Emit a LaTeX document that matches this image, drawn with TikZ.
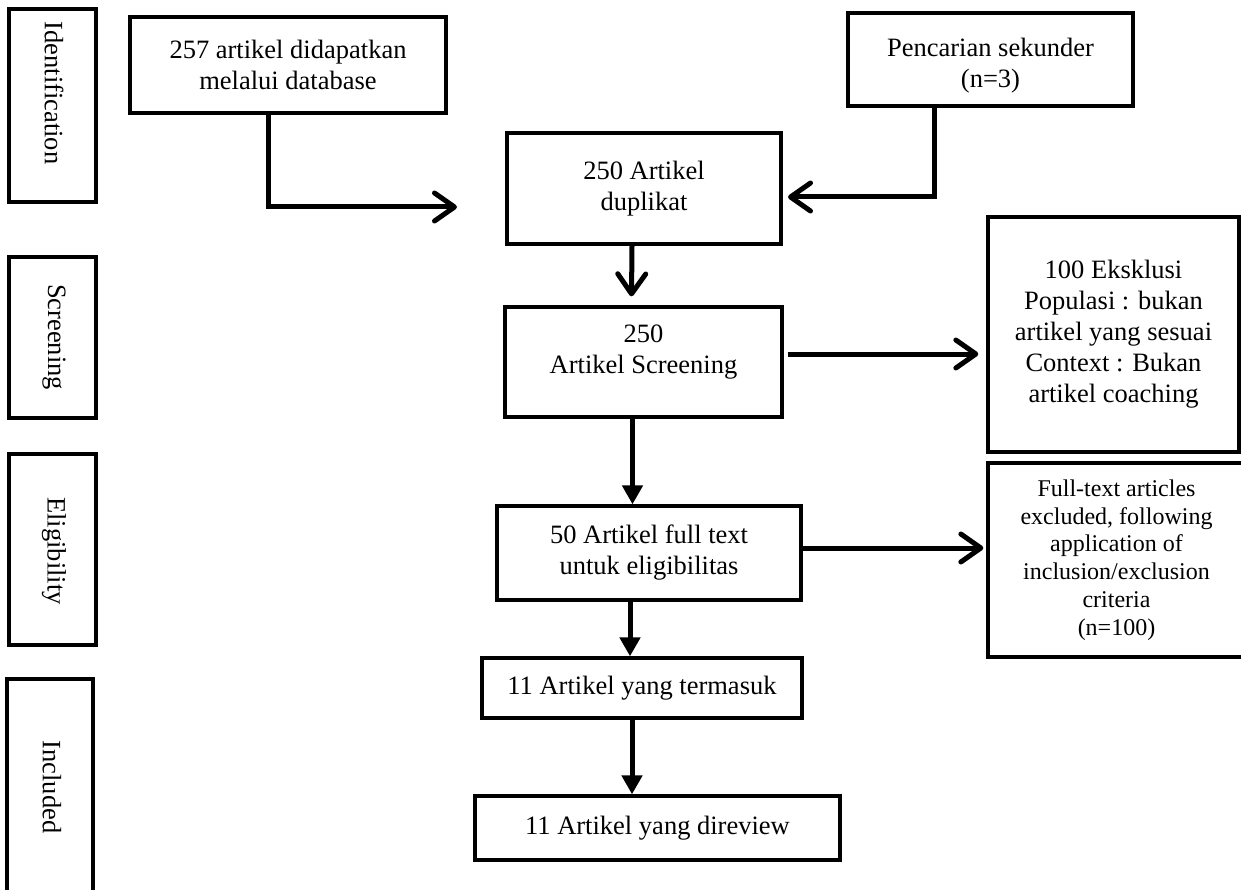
\documentclass[tikz,border=0pt]{standalone}
\usepackage{fontspec}
\setmainfont{Liberation Serif}
\usetikzlibrary{arrows.meta}
\begin{document}
\begin{tikzpicture}[x=1pt,y=-1pt,
  box/.style={draw, line width=3.3pt, inner sep=0pt, align=center, font=\fontsize{26.5}{31}\selectfont},
  txt/.style={inner sep=0pt, align=center, font=\fontsize{26.5}{31}\selectfont},
  small/.style={font=\fontsize{24}{27.7}\selectfont},
  stagebox/.style={draw, line width=3.5pt},
  stagelbl/.style={inner sep=0pt, rotate=-90, font=\fontsize{26.5}{31}\selectfont},
  conn/.style={line width=5pt},
  barb/.style={conn, -{Straight Barb[length=20pt,width=28pt,round]}},
  tri/.style={conn, -{Triangle[length=19pt,width=20pt]}},
]
\useasboundingbox (0,0) rectangle (1241,890);
\clip (0,0) rectangle (1241,890);

% stage boxes
\draw[stagebox] (9,9) rectangle (96,202);
\node[stagelbl] (sid) at (54,93) {Identification};
\draw[stagebox] (9,257) rectangle (96,418);
\node[stagelbl] (sscr) at (54,337) {Screening};
\draw[stagebox] (9,454) rectangle (96,645);
\node[stagelbl] (selig) at (54,551) {Eligibility};
\draw[stagebox] (7,679) rectangle (93,905);
\node[stagelbl] (sinc) at (52,787) {Included};

% main boxes
\node[box, minimum width=316, minimum height=96] (db) at (288,65) {257 artikel didapatkan\\melalui database};
\node[box, minimum width=285, minimum height=93] (sec) at (990.5,59.5) {};
\node[txt] (sect) at (990.5,66) {Pencarian sekunder\\(n=3)};
\node[box, minimum width=274, minimum height=111] (dup) at (644,188.5) {250 Artikel\\duplikat};
\node[box, minimum width=277, minimum height=110] (scr) at (643.5,362) {};
\node[txt] (scrt) at (643.5,352) {250\\Artikel Screening};
\node[box, minimum width=251, minimum height=235] (exc) at (1113.5,334.5) {100 Eksklusi\\Populasi : bukan\\artikel yang sesuai\\Context : Bukan\\artikel coaching};
\node[box, minimum width=304, minimum height=94] (elig) at (649,553) {50 Artikel full text\\untuk eligibilitas};
\node[box, small, minimum width=257, minimum height=194] (ft) at (1116.5,560) {Full-text articles\\excluded, following\\application of\\inclusion/exclusion\\criteria\\(n=100)};
\node[box, minimum width=320, minimum height=60] (inc) at (642,688) {11 Artikel yang termasuk};
\node[box, minimum width=365, minimum height=64] (rev) at (657.5,828) {11 Artikel yang direview};

% connectors
\coordinate (t1) at (457,207);
\draw[barb] ([xshift=-20pt]db.south) |- (t1);
\coordinate (t2) at (788,197);
\draw[barb] ([xshift=-56.5pt]sec.south) |- (t2);
\draw[barb] ([xshift=-12pt]dup.south) -- ([xshift=-12pt,yshift=9pt]scr.north);
\draw[barb, shorten <=4pt, shorten >=8pt] ([yshift=8pt]scr.east) -- ([yshift=8pt]scr.east -| exc.west);
\draw[tri] ([xshift=-11pt]scr.south) -- ([xshift=-11pt]scr.south |- elig.north);
\draw[barb, shorten >=3pt] ([yshift=5pt]elig.east) -- ([yshift=5pt]elig.east -| ft.west);
\draw[tri] ([xshift=-19pt]elig.south) -- ([xshift=-19pt]elig.south |- inc.north);
\draw[tri] ([xshift=-10pt]inc.south) -- ([xshift=-10pt]inc.south |- rev.north);
\end{tikzpicture}
\end{document}
